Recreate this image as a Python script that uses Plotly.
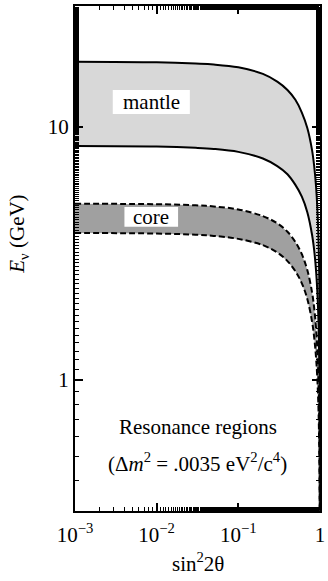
import math
import plotly.graph_objects as go

# sin^2(2θ) sample points
sin2_2theta = [0.001, 0.01, 0.03, 0.05, 0.1, 0.2, 0.3, 0.4, 0.5, 0.6, 0.7,
               0.8, 0.85, 0.9, 0.95, 0.98, 0.99, 0.995, 0.999]

# Resonance energies (GeV) bounding the mantle and core regions
mantle_upper = [18.1, 18.0, 17.8, 17.65, 17.2, 16.2, 15.1, 14.0, 12.8, 11.4, 9.9,
                8.1, 7.0, 5.7, 4.0, 2.6, 1.8, 1.3, 0.57]
mantle_lower = [8.4, 8.36, 8.27, 8.19, 7.97, 7.5, 7.0, 6.5, 5.9, 5.3, 4.6,
                3.75, 3.25, 2.65, 1.88, 1.18, 0.84, 0.59, 0.27]
core_upper = [4.97, 4.95, 4.9, 4.85, 4.72, 4.44, 4.16, 3.85, 3.51, 3.14, 2.72,
              2.22, 1.92, 1.57, 1.11, 0.70, 0.50, 0.35, 0.16]
core_lower = [3.81, 3.79, 3.75, 3.71, 3.61, 3.41, 3.19, 2.95, 2.69, 2.41, 2.09,
              1.70, 1.47, 1.20, 0.85, 0.54, 0.38, 0.27, 0.12]

x_tickvals = [0.001, 0.01, 0.1, 1]
x_ticktext = ["10<sup>\u22123</sup>", "10<sup>\u22122</sup>", "10<sup>\u22121</sup>", "1"]
y_tickvals = [1, 10]
y_ticktext = ["1", "10"]

FONT = "Liberation Serif"
FS = 21

fig = go.Figure()


def band(upper, lower, fillcolor, dash):
    # shaded region between two curves
    fig.add_trace(go.Scatter(
        x=sin2_2theta + sin2_2theta[::-1],
        y=upper + lower[::-1],
        fill="toself", fillcolor=fillcolor,
        line=dict(width=0), mode="lines", hoverinfo="skip", showlegend=False))
    for curve in (upper, lower):
        fig.add_trace(go.Scatter(
            x=sin2_2theta, y=curve, mode="lines",
            line=dict(color="black", width=2, dash=dash, shape="spline"),
            showlegend=False))


band(mantle_upper, mantle_lower, "rgb(216,216,216)", "solid")
band(core_upper, core_lower, "rgb(160,160,160)", "6px,3px")

lg = math.log10  # annotations on log axes are placed in log10 units

# white label boxes with region names
for text, x0, x1, y0, y1 in [("mantle", 0.0029, 0.0255, 11.25, 14.0),
                             ("core", 0.00403, 0.0183, 4.03, 4.83)]:
    fig.add_shape(type="rect", xref="x", yref="y",
                  x0=x0, x1=x1, y0=y0, y1=y1,
                  fillcolor="white", line=dict(width=0), layer="above")
    fig.add_annotation(x=(lg(x0) + lg(x1)) / 2, y=(lg(y0) + lg(y1)) / 2,
                       xref="x", yref="y", text=text, showarrow=False,
                       font=dict(family=FONT, size=FS, color="black"))

fig.add_annotation(x=lg(0.0318), y=lg(0.652), xref="x", yref="y", text="Resonance regions",
                   showarrow=False, font=dict(family=FONT, size=FS, color="black"))
fig.add_annotation(x=lg(0.0318), y=lg(0.47), xref="x", yref="y",
                   text="(\u0394<i>m</i><sup>2</sup> = .0035 eV<sup>2</sup>/c<sup>4</sup>)",
                   showarrow=False, font=dict(family=FONT, size=FS, color="black"))

# axis titles
fig.add_annotation(x=-0.2, y=0.547, xref="paper", yref="paper", xanchor="center",
                   xshift=-8,
                   text="<i>E</i><sub>\u03bd</sub> (GeV)", textangle=-90, showarrow=False,
                   font=dict(family=FONT, size=FS, color="black"))
fig.add_annotation(x=0.5, y=-0.101, xref="paper", yref="paper", yanchor="middle",
                   text="sin<sup>2</sup>2\u03b8", showarrow=False,
                   font=dict(family=FONT, size=FS, color="black"))

axis_common = dict(
    showgrid=False, zeroline=False, showline=True, linecolor="black", linewidth=2,
    mirror="allticks", ticks="inside", ticklen=8, tickwidth=1.5, tickcolor="black",
    tickfont=dict(family=FONT, size=FS, color="black"),
    minor=dict(ticks="inside", ticklen=4, tickwidth=1.2, tickcolor="black", showgrid=False),
)

fig.update_xaxes(type="log", range=[-3, 0.0005], tickvals=x_tickvals, ticktext=x_ticktext,
                 ticklabelstandoff=4, ticklabeloverflow="allow", **axis_common)
fig.update_yaxes(type="log", range=[-0.518, 1.478], tickvals=y_tickvals, ticktext=y_ticktext,
                 **axis_common)

fig.update_layout(
    width=328, height=581,
    margin=dict(l=75, r=3, t=6, b=70),
    plot_bgcolor="white", paper_bgcolor="white",
    font=dict(family=FONT, color="black"),
)

fig.write_html("out.html")
